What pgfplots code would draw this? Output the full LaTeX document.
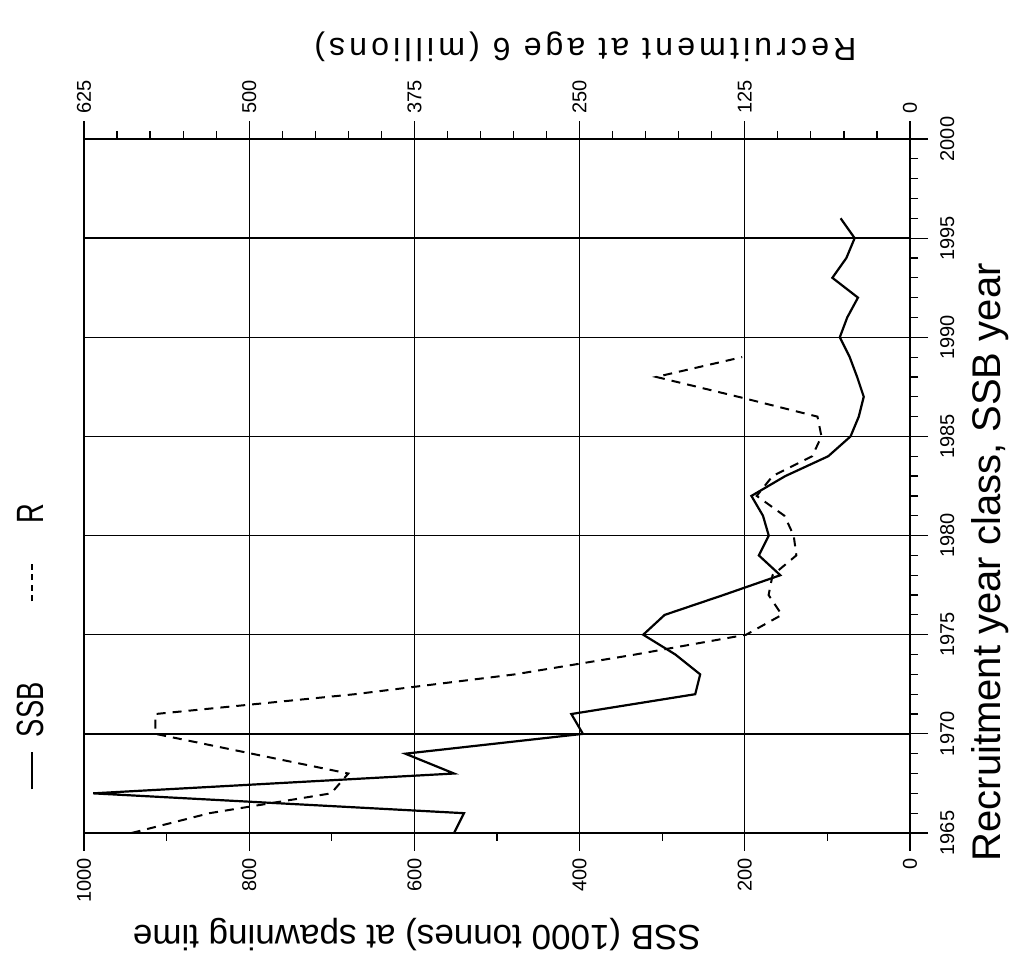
\documentclass[border=0pt]{standalone}
\usepackage{pgfplots}
\pgfplotsset{compat=1.18}
\usepackage{pgfplotstable}
\usepackage{fontspec}
\setmainfont{Liberation Sans}
\newfontfamily\legfont[FakeStretch=0.72]{Liberation Sans}
\newfontfamily\spacedfont[LetterSpace=13]{Liberation Sans}

\pgfplotstableread{
year ssb
1965 552
1966 540
1967 989
1968 552
1969 611
1970 396
1971 410
1972 260
1973 254
1974 284
1975 323
1976 297
1977 226
1978 157
1979 183
1980 171
1981 178
1982 192
1983 151
1984 99
1985 72
1986 62
1987 56
1988 64
1989 73
1990 85
1991 76
1992 63
1993 94
1994 77
1995 67
1996 84
}\ssbdata

\pgfplotstableread{
year rec
1965 589
1966 530
1967 438
1968 425
1969 498
1970 571
1971 571
1972 420
1973 299
1974 208
1975 124
1976 97
1977 107
1978 104
1979 86
1980 88
1981 95
1982 116
1983 104
1984 74
1985 67
1986 70
1987 130
1988 192
1989 127
}\recdata

\begin{document}
\begin{tikzpicture}[rotate=90, transform shape]
\begin{axis}[
  name=main,
  scale only axis, width=347pt, height=413pt,
  xmin=1965, xmax=2000, ymin=0, ymax=1000,
  xtick={1965,1970,...,2000}, minor x tick num=4,
  ytick={0,200,...,1000}, minor y tick num=1,
  xtick pos=left, ytick pos=left,
  tick align=outside,
  major tick length=9pt, minor tick length=4pt,
  tick style={black, line width=0.6pt},
  grid=major, major grid style={black, line width=0.65pt},
  axis line style={line width=0.75pt},
  /pgf/number format/assume math mode=true,
  /pgf/number format/1000 sep={},
  tick label style={font=\fontsize{10}{12}\selectfont},
  x tick label style={yshift=-2.5pt},
  xlabel={Recruitment year class, SSB year},
  xlabel style={font=\fontsize{20}{24}\selectfont, at={(axis description cs:0.39,-0.097)}, anchor=center},
  ylabel={SSB (1000 tonnes) at spawning time},
  ylabel style={font=\fontsize{17.5}{20}\selectfont, at={(axis description cs:-0.147,0.597)}, anchor=center},
  legend style={at={(axis description cs:0.271,1.063)}, anchor=center, draw=none, fill=none,
    font=\legfont\fontsize{19}{22}\selectfont,
    /tikz/every odd column/.append style={column sep=5pt},
    /tikz/every even column/.append style={column sep=38pt}},
  legend columns=2,
  legend image code/.code={\draw[#1] (0pt,0pt) -- (18.5pt,0pt);},
]
\addplot[black, line width=1.1pt] table[x=year,y=ssb] {\ssbdata};
\addlegendentry{SSB}
\addlegendimage{black, line width=1.1pt, dash pattern=on 3pt off 2.3pt}
\addlegendentry{\hspace{13pt}R}
\end{axis}
\begin{axis}[
  scale only axis, width=347pt, height=413pt,
  xmin=1965, xmax=2000, ymin=0, ymax=625,
  axis x line=none, axis y line*=right,
  ytick={0,125,...,625}, minor y tick num=4,
  tick align=outside,
  major tick length=9pt, minor tick length=4pt,
  tick style={black, line width=0.6pt},
  axis line style={line width=0.75pt},
  /pgf/number format/assume math mode=true,
  tick label style={font=\fontsize{10}{12}\selectfont},
  ylabel={Recruitment at age 6 (millions)},
  ylabel style={font=\spacedfont\fontsize{16}{19}\selectfont, at={(axis description cs:1.133,0.393)}, anchor=center},
]
\addplot[black, line width=1.0pt, dash pattern=on 4.5pt off 3.5pt] table[x=year,y=rec] {\recdata};
\end{axis}
\path (main.south west) +(-64.5pt,-55pt) (main.north east) +(69.5pt,42pt);
\end{tikzpicture}
\end{document}
